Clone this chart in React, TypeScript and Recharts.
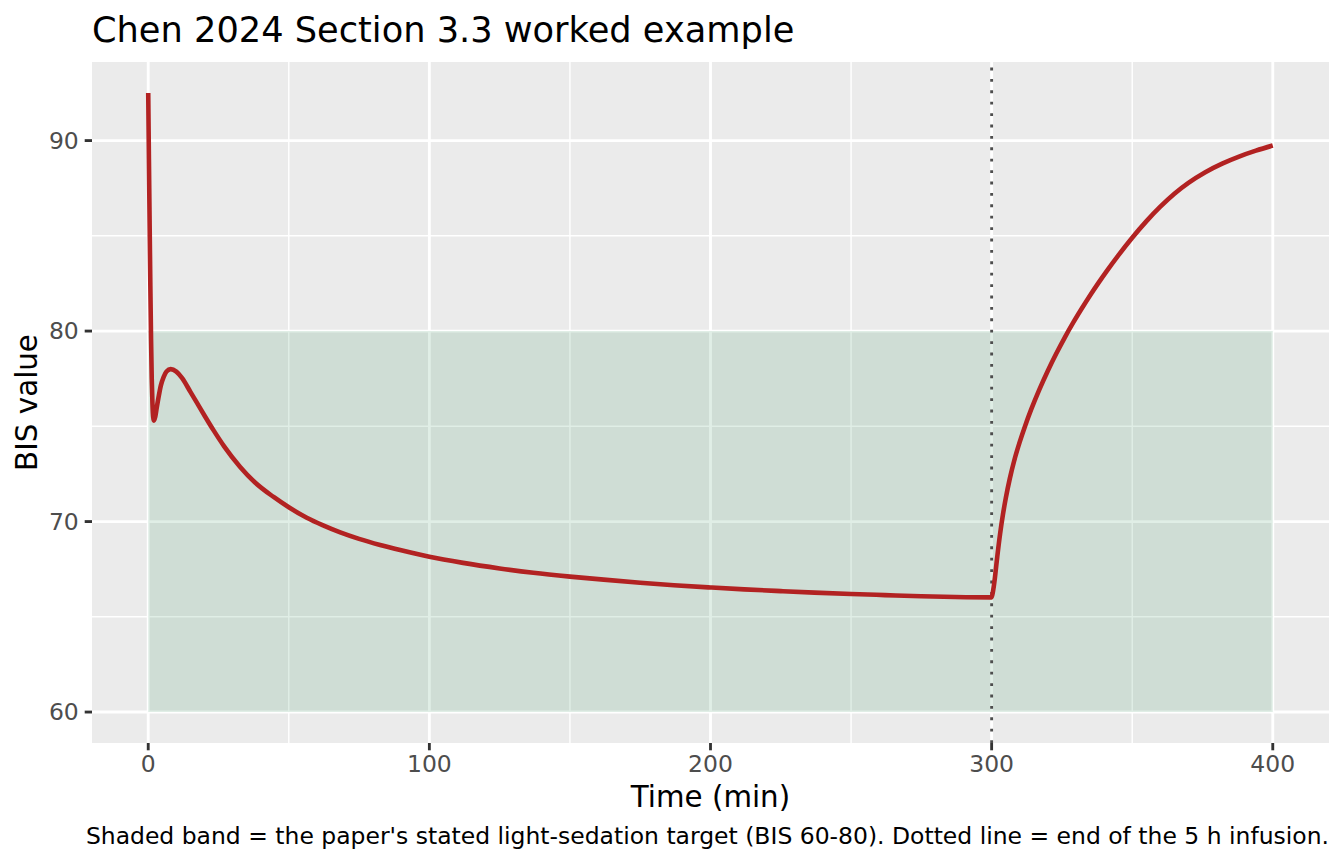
import React from "react";
import {
  LineChart,
  Line,
  XAxis,
  YAxis,
  CartesianGrid,
  ReferenceArea,
  ReferenceLine,
} from "recharts";

// ---- data ----
const timeMin = [
  0, 0.25, 0.5, 0.75, 1, 1.25, 1.5, 1.75, 2, 2.5, 3, 3.7, 4.5, 5.5, 6.5, 8, 10, 12, 15, 17.3,
  20, 23.2, 27, 32.7, 38, 44.6, 50, 56.4, 62, 68.3, 75, 82.5, 90, 100, 112, 125, 137, 150, 162,
  175, 187, 200, 212, 225, 237, 250, 262, 275, 287, 300, 300.5, 301, 301.5, 302, 303, 304, 305,
  306.5, 308, 310, 312, 314, 317, 320, 323, 326, 329, 332, 335, 338, 341, 345, 350, 355, 360,
  365, 370, 376, 382, 388, 394, 400,
];

const bisValue = [
  92.5, 89.0, 85.6, 82.4, 79.6, 77.5, 76.2, 75.5, 75.3, 75.5, 75.95, 76.55, 77.15, 77.6, 77.88,
  78.0, 77.87, 77.54, 76.81, 76.24, 75.57, 74.8, 73.95, 72.87, 72.05, 71.29, 70.75, 70.2, 69.81,
  69.43, 69.09, 68.77, 68.49, 68.15, 67.83, 67.54, 67.31, 67.11, 66.95, 66.79, 66.66, 66.54,
  66.44, 66.35, 66.27, 66.2, 66.14, 66.08, 66.04, 66.02, 66.35, 66.85, 67.5, 68.15, 69.35, 70.35,
  71.2, 72.28, 73.18, 74.18, 75.06, 75.86, 76.94, 77.92, 78.82, 79.66, 80.44, 81.17, 81.87,
  82.53, 83.16, 83.96, 84.9, 85.76, 86.53, 87.21, 87.78, 88.34, 88.79, 89.16, 89.47, 89.74,
];

const xTicks = [0, 100, 200, 300, 400];
const xMinor = [50, 150, 250, 350];
const yTicks = [60, 70, 80, 90];
const yMinor = [65, 75, 85];
const xDomain = [-20, 420];
const yDomain = [58.375, 94.125];

const bandTime = [0, 400];
const bandBis = [60, 80];
const infusionEnd = 300;

const titleText = "Chen 2024 Section 3.3 worked example";
const xTitle = "Time (min)";
const yTitle = "BIS value";
const captionText =
  "Shaded band = the paper's stated light-sedation target (BIS 60-80). Dotted line = end of the 5 h infusion.";

const data = timeMin.map((t, i) => ({ t, bis: bisValue[i] }));

const FONT = "'DejaVu Sans', 'Liberation Sans', sans-serif";
const TICK_FS = 23.47;
const AXIS_TITLE_FS = 29.33;
const TITLE_FS = 35.2;

export default function App() {
  const tickStyle = { fill: "#4D4D4D", fontSize: TICK_FS, fontFamily: FONT };
  return (
    <div
      style={{
        position: "absolute",
        left: 0,
        top: 0,
        width: 1344,
        height: 864,
        background: "#FFFFFF",
        fontFamily: FONT,
      }}
    >
      <LineChart
        width={1344}
        height={864}
        data={data}
        margin={{ top: 62, right: 15, bottom: 0, left: 0 }}
      >
        <CartesianGrid
          fill="#EBEBEB"
          fillOpacity={1}
          stroke="#FFFFFF"
          strokeWidth={1.42}
          horizontalValues={yMinor}
          verticalValues={xMinor}
        />
        <CartesianGrid
          stroke="#FFFFFF"
          strokeWidth={2.85}
          horizontalValues={yTicks}
          verticalValues={xTicks}
        />
        <XAxis
          dataKey="t"
          type="number"
          domain={xDomain}
          allowDataOverflow
          ticks={xTicks}
          interval={0}
          height={121}
          axisLine={false}
          tickSize={7.3}
          tickMargin={5.5}
          tickLine={{ stroke: "#333333", strokeWidth: 2.85 }}
          tick={tickStyle}
        />
        <YAxis
          type="number"
          domain={yDomain}
          allowDataOverflow
          ticks={yTicks}
          interval={0}
          width={92}
          axisLine={false}
          tickSize={7.3}
          tickMargin={5.9}
          tickLine={{ stroke: "#333333", strokeWidth: 2.85 }}
          tick={tickStyle}
        />
        <ReferenceArea
          x1={bandTime[0]}
          x2={bandTime[1]}
          y1={bandBis[0]}
          y2={bandBis[1]}
          fill="#2E8B57"
          fillOpacity={0.15}
          stroke="none"
          ifOverflow="visible"
        />
        <ReferenceLine
          x={infusionEnd}
          stroke="#4D4D4D"
          strokeWidth={2.85}
          strokeDasharray="2.85 8.55"
        />
        <Line
          type="monotone"
          dataKey="bis"
          stroke="#B22222"
          strokeWidth={4.6}
          strokeLinejoin="round"
          dot={false}
          activeDot={false}
          isAnimationActive={false}
        />
      </LineChart>
      <svg
        width={1344}
        height={864}
        style={{ position: "absolute", left: 0, top: 0, pointerEvents: "none" }}
      >
        <text x={92} y={41.5} fontSize={TITLE_FS} fill="#000000" fontFamily={FONT}>
          {titleText}
        </text>
        <text
          transform="translate(36.5, 402.5) rotate(-90)"
          textAnchor="middle"
          fontSize={AXIS_TITLE_FS}
          fill="#000000"
          fontFamily={FONT}
        >
          {yTitle}
        </text>
        <text
          x={710.5}
          y={807}
          textAnchor="middle"
          fontSize={AXIS_TITLE_FS}
          fill="#000000"
          fontFamily={FONT}
        >
          {xTitle}
        </text>
        <text
          x={1329}
          y={844}
          textAnchor="end"
          fontSize={TICK_FS}
          fill="#000000"
          fontFamily={FONT}
        >
          {captionText}
        </text>
      </svg>
    </div>
  );
}
